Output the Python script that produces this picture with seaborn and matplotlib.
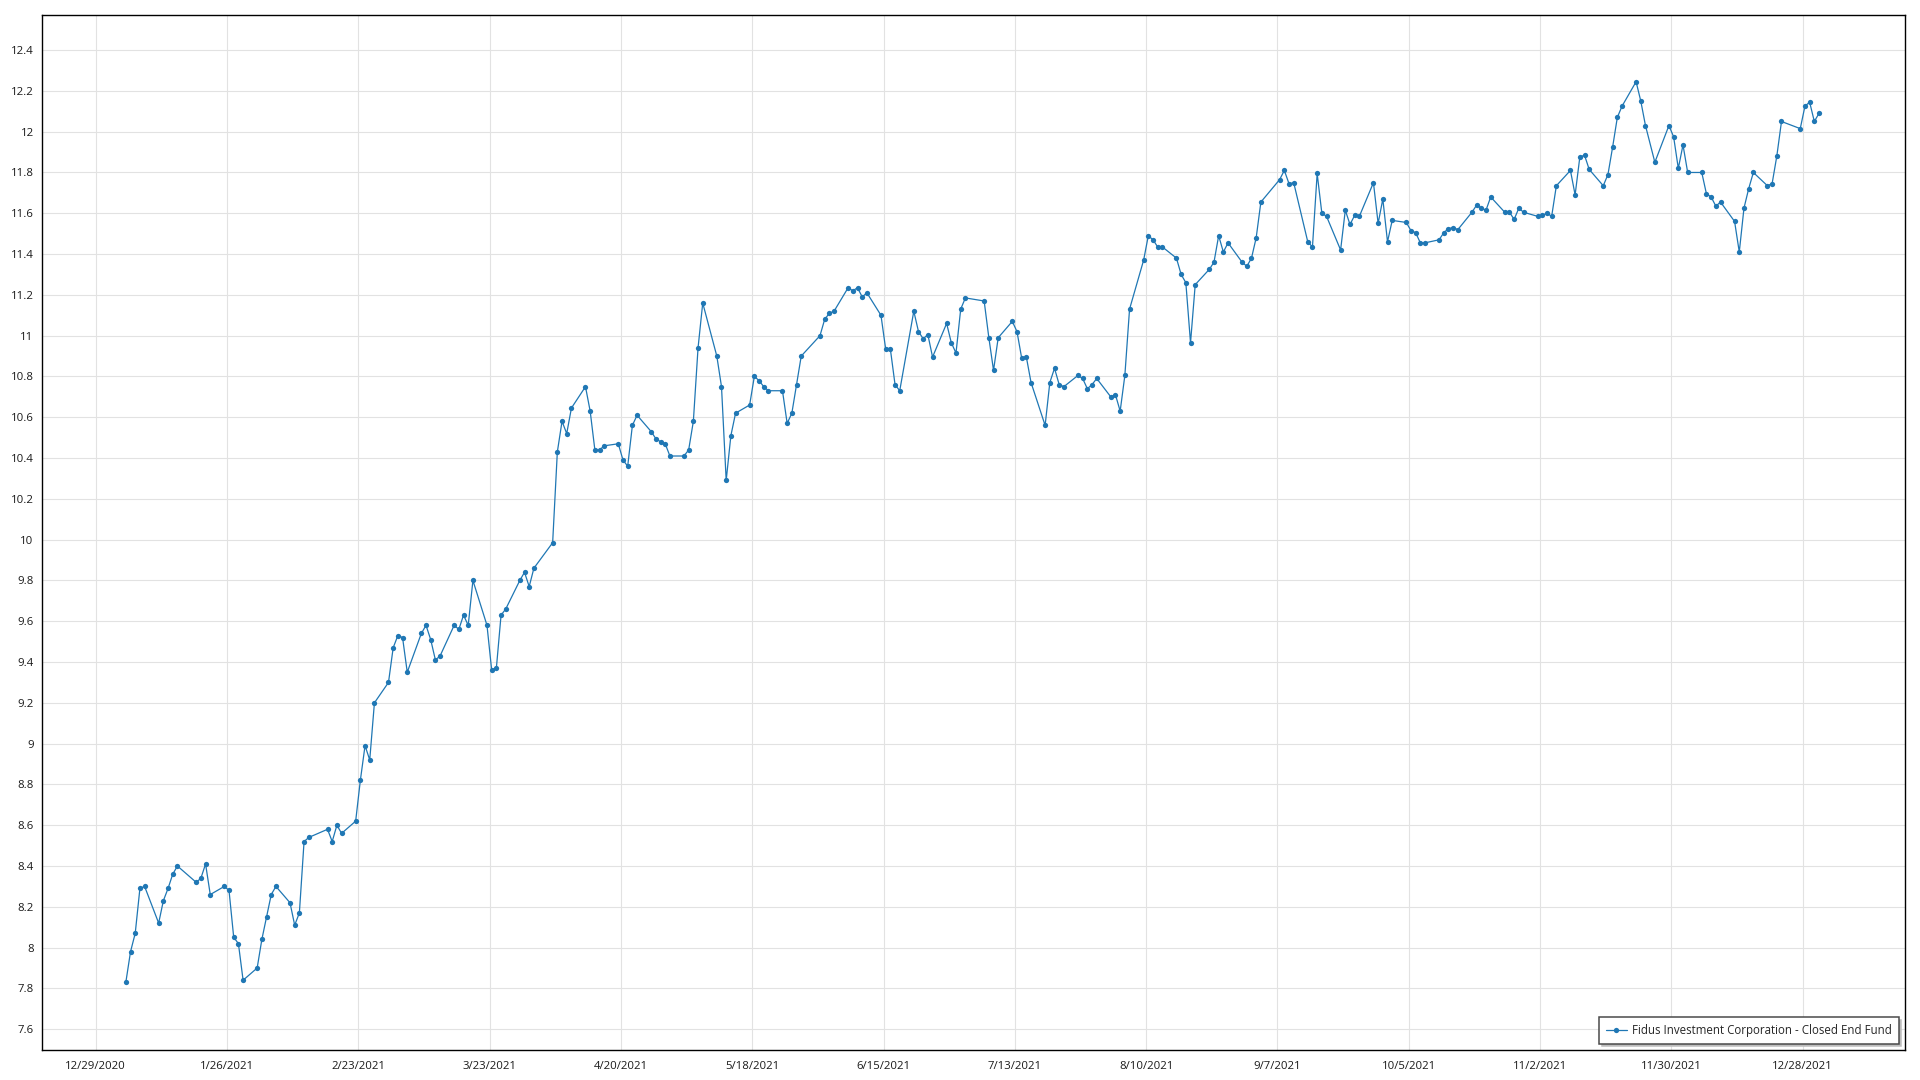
"""
Daily closing price of Fidus Investment Corporation (FDUS) through 2021.

Single line chart with markers, light grid and a boxed legend in the corner.
"""

import matplotlib

matplotlib.use("Agg")

import matplotlib.pyplot as plt
import matplotlib.ticker as mticker
import pandas as pd
import seaborn as sns

SERIES_NAME = "Fidus Investment Corporation - Closed End Fund"

# market holidays inside the range (no close printed on these days)
HOLIDAYS = [
    "2021-01-18", "2021-02-15", "2021-04-02", "2021-05-31",
    "2021-07-05", "2021-09-06", "2021-11-25", "2021-12-24",
]

# closing prices, one per trading day, month by month
JAN = [7.83, 7.98, 8.07, 8.29, 8.30, 8.12, 8.23, 8.29, 8.36, 8.40,
       8.32, 8.34, 8.41, 8.26, 8.30, 8.28, 8.05, 8.02, 7.84]
FEB = [7.90, 8.04, 8.15, 8.26, 8.30, 8.22, 8.11, 8.17, 8.52, 8.54,
       8.58, 8.52, 8.60, 8.56, 8.62, 8.82, 8.99, 8.92, 9.20]
MAR = [9.30, 9.47, 9.53, 9.52, 9.35, 9.54, 9.58, 9.51, 9.41, 9.43,
       9.58, 9.56, 9.63, 9.58, 9.80, 9.58, 9.36, 9.37, 9.63, 9.66,
       9.80, 9.84, 9.77]
APR = [9.86, 9.985, 10.43, 10.58, 10.52, 10.645, 10.75, 10.63, 10.44, 10.44,
       10.46, 10.47, 10.39, 10.36, 10.56, 10.61, 10.53, 10.495, 10.48, 10.47,
       10.41]
MAY = [10.41, 10.44, 10.58, 10.94, 11.16, 10.90, 10.75, 10.29, 10.51, 10.62,
       10.66, 10.80, 10.78, 10.75, 10.73, 10.73, 10.57, 10.62, 10.76, 10.90]
JUN = [11.00, 11.08, 11.11, 11.12, 11.235, 11.22, 11.235, 11.19, 11.21, 11.10,
       10.935, 10.935, 10.76, 10.73, 11.12, 11.02, 10.985, 11.005, 10.895, 11.06,
       10.965, 10.915]
JUL = [11.13, 11.185, 11.17, 10.99, 10.83, 10.99, 11.07, 11.02, 10.89, 10.895,
       10.77, 10.56, 10.77, 10.84, 10.76, 10.75, 10.805, 10.79, 10.74, 10.76,
       10.79]
AUG = [10.70, 10.71, 10.63, 10.805, 11.13, 11.37, 11.49, 11.47, 11.435, 11.435,
       11.38, 11.30, 11.26, 10.965, 11.25, 11.325, 11.36, 11.49, 11.41, 11.455,
       11.36, 11.34]
SEP = [11.38, 11.48, 11.655, 11.765, 11.81, 11.745, 11.75, 11.46, 11.435, 11.795,
       11.60, 11.585, 11.42, 11.615, 11.545, 11.59, 11.585, 11.75, 11.55, 11.67,
       11.46]
OCT = [11.565, 11.555, 11.515, 11.505, 11.455, 11.455, 11.47, 11.505, 11.525, 11.53,
       11.52, 11.605, 11.64, 11.625, 11.615, 11.68, 11.605, 11.605, 11.57, 11.625,
       11.605]
NOV = [11.585, 11.59, 11.60, 11.585, 11.735, 11.81, 11.69, 11.875, 11.885, 11.815,
       11.735, 11.79, 11.925, 12.07, 12.125, 12.245, 12.15, 12.03, 11.85, 12.03,
       11.975]
DEC = [11.82, 11.935, 11.80, 11.80, 11.695, 11.68, 11.635, 11.655, 11.56, 11.41,
       11.625, 11.72, 11.80, 11.735, 11.745, 11.88, 12.05, 12.015, 12.125, 12.145,
       12.05, 12.09]

TICK_DATES = [
    "2020-12-29", "2021-01-26", "2021-02-23", "2021-03-23", "2021-04-20",
    "2021-05-18", "2021-06-15", "2021-07-13", "2021-08-10", "2021-09-07",
    "2021-10-05", "2021-11-02", "2021-11-30", "2021-12-28",
]

LINE_COLOR = "#1f77b4"


def build_frame() -> pd.DataFrame:
    """Pair each close with its trading day."""
    closes = JAN + FEB + MAR + APR + MAY + JUN + JUL + AUG + SEP + OCT + NOV + DEC
    days = pd.bdate_range("2021-01-04", "2021-12-31", freq="C", holidays=HOLIDAYS)
    # the source stamps each close late morning, so points sit a bit past midnight
    return pd.DataFrame({"date": days + pd.Timedelta(hours=11), "close": closes})


def plot_prices(df: pd.DataFrame) -> plt.Figure:
    sns.set_style("white")
    plt.rcParams["font.family"] = ["Open Sans", "DejaVu Sans"]

    fig = plt.figure(figsize=(19.2, 10.8), dpi=100)
    ax = fig.add_axes([42 / 1920, 30 / 1080, 1863 / 1920, 1035 / 1080])

    sns.lineplot(
        data=df,
        x="date",
        y="close",
        marker="o",
        markersize=3.8,
        markeredgewidth=0,
        linewidth=0.9,
        color=LINE_COLOR,
        label=SERIES_NAME,
        ax=ax,
        zorder=3,
    )

    ticks = pd.to_datetime(TICK_DATES)
    ax.set_xticks(ticks)
    ax.set_xticklabels([f"{d.month}/{d.day}/{d.year}" for d in ticks])
    ax.set_xlim(pd.Timestamp("2020-12-17 14:00"), pd.Timestamp("2022-01-18 19:00"))

    ax.yaxis.set_major_locator(mticker.MultipleLocator(0.2))
    ax.yaxis.set_minor_locator(mticker.AutoMinorLocator(5))
    ax.yaxis.set_major_formatter(mticker.FuncFormatter(lambda v, _: f"{round(v, 2):g}"))
    ax.set_ylim(7.498, 12.572)

    ax.set_xlabel("")
    ax.set_ylabel("")
    ax.grid(True, which="major", color="#e2e2e2", linewidth=0.8, zorder=0)

    for side in ["left", "right", "top", "bottom"]:
        ax.spines[side].set_color("black")
        ax.spines[side].set_linewidth(1.0)

    ax.tick_params(axis="both", which="major", direction="out", length=4,
                   width=0.8, color="black", labelsize=8.2, labelcolor="#1a1a1a", pad=2)
    ax.tick_params(axis="y", which="minor", direction="out", length=2.5,
                   width=0.8, color="black")
    ax.tick_params(axis="x", which="minor", length=0)
    ax.tick_params(axis="x", which="major", pad=4)

    leg = ax.legend(
        loc="lower right",
        fontsize=8.3,
        frameon=True,
        fancybox=False,
        shadow={"color": "#bdbdbd", "alpha": 1.0},
        edgecolor="#4a4a4a",
        borderaxespad=0.55,
        borderpad=0.6,
        handlelength=1.8,
        handletextpad=0.45,
    )
    leg.get_frame().set_linewidth(1.1)

    return fig


if __name__ == "__main__":
    fig = plot_prices(build_frame())
    fig.savefig("out.png", dpi=100)
